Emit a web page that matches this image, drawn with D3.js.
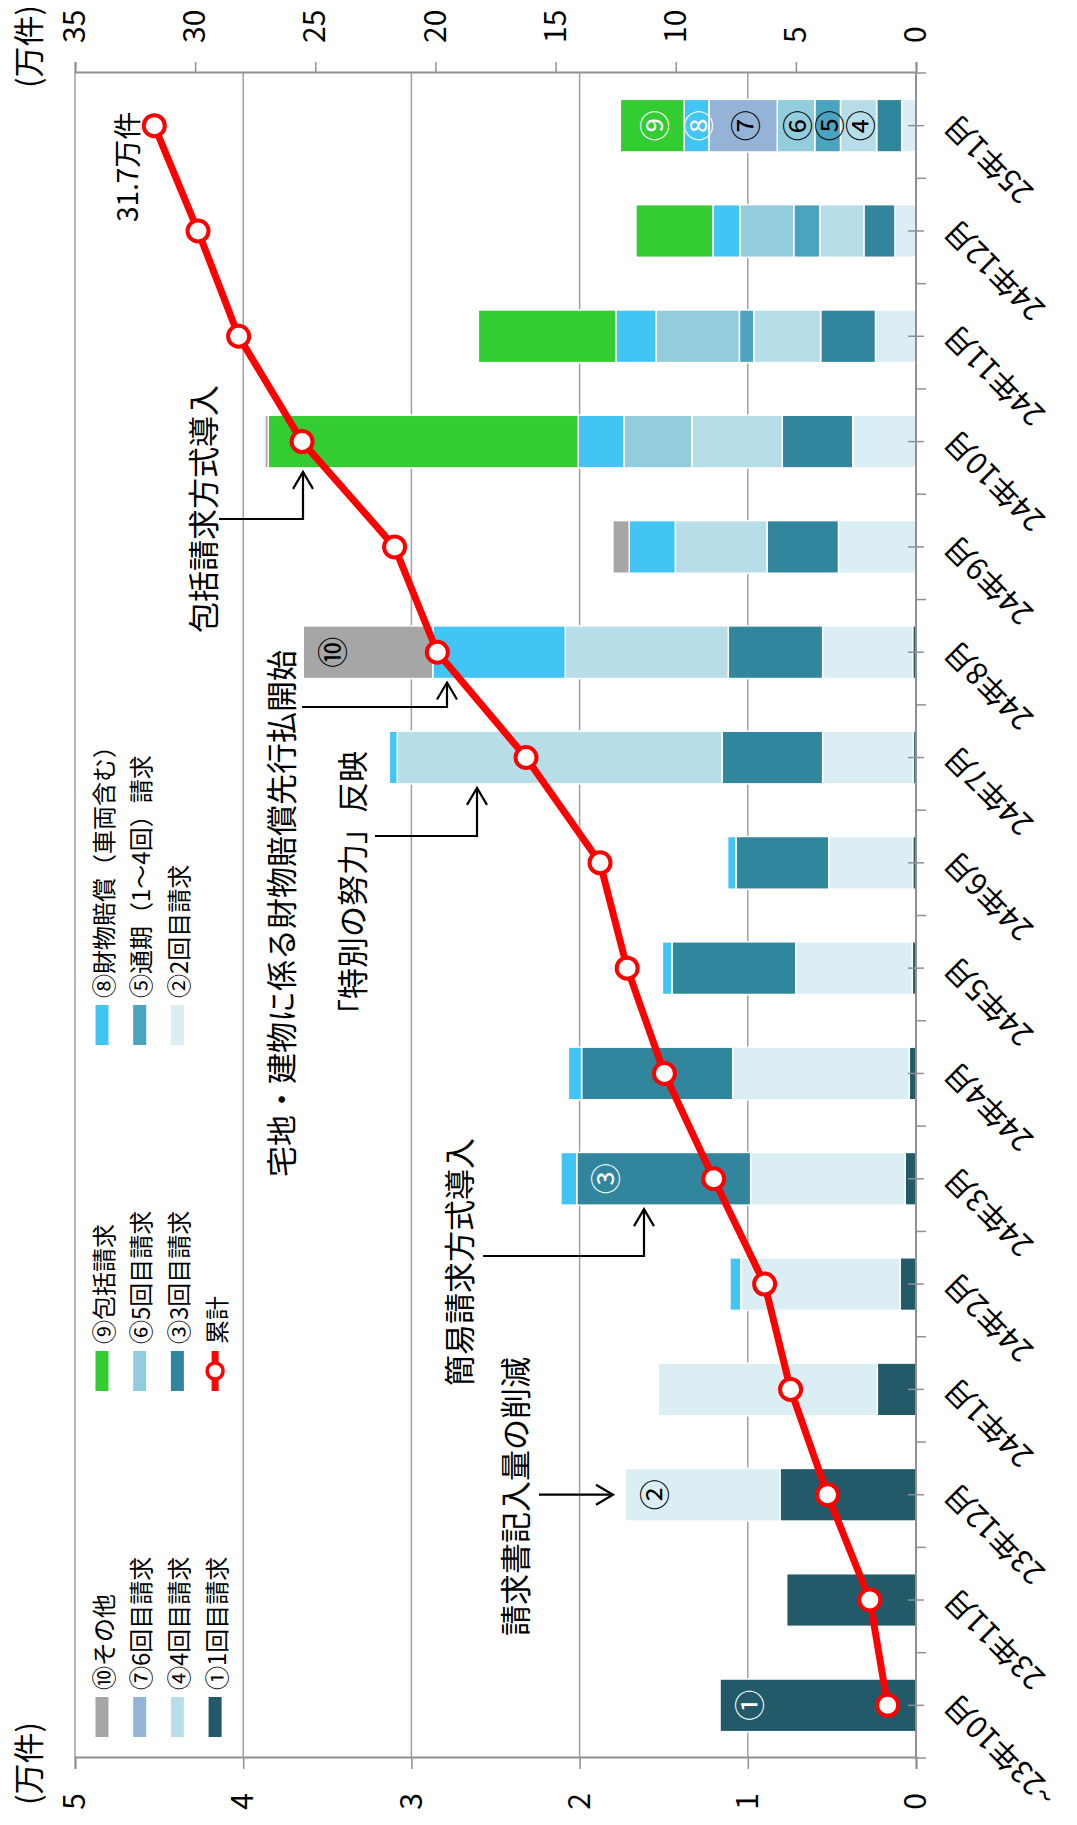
<!DOCTYPE html>
<html>
<head>
<meta charset="utf-8">
<script src="https://cdn.jsdelivr.net/npm/d3@7"></script>
<style>
  body { margin: 0; background: #fff; }
  text { font-family: "Noto Sans CJK JP", "Noto Sans", sans-serif; }
</style>
</head>
<body>
<script>
// months, oldest first
var months = ['~23年10月', '23年11月', '23年12月', '24年1月', '24年2月', '24年3月', '24年4月', '24年5月',
              '24年6月', '24年7月', '24年8月', '24年9月', '24年10月', '24年11月', '24年12月', '25年1月'];

// monthly counts per kind (万件)
var s1  = [1.165, 0.769, 0.809, 0.23, 0.095, 0.064, 0.04, 0.022, 0.02, 0.016, 0.02, 0, 0, 0, 0, 0];
var s2  = [0, 0, 0.921, 1.302, 0.947, 0.919, 1.05, 0.693, 0.499, 0.539, 0.535, 0.461, 0.376, 0.241, 0.125, 0.085];
var s3  = [0, 0, 0, 0, 0, 1.034, 0.898, 0.736, 0.551, 0.598, 0.561, 0.425, 0.419, 0.326, 0.185, 0.149];
var s4  = [0, 0, 0, 0, 0, 0, 0, 0, 0, 1.931, 0.969, 0.545, 0.537, 0.398, 0.262, 0.215];
var s5  = [0, 0, 0, 0, 0, 0, 0, 0, 0, 0, 0, 0, 0, 0.085, 0.155, 0.153];
var s6  = [0, 0, 0, 0, 0, 0, 0, 0, 0, 0, 0, 0, 0.404, 0.495, 0.32, 0.223];
var s7  = [0, 0, 0, 0, 0, 0, 0, 0, 0, 0, 0, 0, 0, 0, 0, 0.406];
var s8  = [0, 0, 0, 0, 0.064, 0.094, 0.079, 0.057, 0.05, 0.047, 0.788, 0.274, 0.272, 0.239, 0.161, 0.147];
var s9  = [0, 0, 0, 0, 0, 0, 0, 0, 0, 0, 0, 0, 1.843, 0.818, 0.457, 0.38];
var s10 = [0, 0, 0, 0, 0, 0, 0, 0, 0, 0, 0.77, 0.097, 0.02, 0, 0, 0];

// running total (万件), right axis
var cumulative = [1.18, 1.92, 3.68, 5.22, 6.3, 8.42, 10.47, 12.02, 13.15, 16.23, 19.92, 21.7, 25.55, 28.19, 29.88, 31.7];

var seriesNames = ['①1回目請求', '②2回目請求', '③3回目請求', '④4回目請求', '⑤通期（1～4回）請求',
                   '⑥5回目請求', '⑦6回目請求', '⑧財物賠償（車両含む）', '⑨包括請求', '⑩その他'];
var lineName = '累計';
var circled = ['①', '②', '③', '④', '⑤', '⑥', '⑦', '⑧', '⑨', '⑩'];

var leftTicks = [0, 1, 2, 3, 4, 5];
var rightTicks = [0, 5, 10, 15, 20, 25, 30, 35];

// which segments carry their circled number: [month, series]
var endLabels = [[0, 0], [2, 1], [5, 2], [10, 9]];
var midLabels = [[15, 3], [15, 4], [15, 5], [15, 6], [15, 7], [15, 8]];

// notes: text, month it points at
var notes = [
  {text: '包括請求方式導入', month: 12},
  {text: '宅地・建物に係る財物賠償先行払開始', month: 10},
  {text: '「特別の努力」反映', month: 9},
  {text: '簡易請求方式導入', month: 5},
  {text: '請求書記入量の削減', month: 2}
];

var colors = ['#225a69', '#dbeef4', '#31859c', '#b7dee8', '#4ba4bf', '#93cddd', '#95b3d7', '#42c5f5', '#33cc33', '#a6a6a6'];
var labelInk = ['#fff', '#000', '#fff', '#000', '#000', '#000', '#000', '#fff', '#fff', '#000'];

// the chart is laid out lying on its side, then turned a quarter left
var W = 1825, H = 1077;
var x0 = 67, x1 = 1752, yTop = 75, yBase = 916;

var svg = d3.select('body').append('svg')
            .attr('width', H)
            .attr('height', W);
var g = svg.append('g').attr('transform', 'translate(0,' + W + ') rotate(-90)');

var x = d3.scaleBand().domain(months).range([x0, x1]).paddingInner(0.5).paddingOuter(0.25);
var yL = d3.scaleLinear().domain([0, 5]).range([yBase, yTop]);
var yR = d3.scaleLinear().domain([0, 35]).range([yBase, yTop]);
var step = x.step();

// grid + frame
g.selectAll('line.grid')
 .data([1, 2, 3, 4])
 .enter().append('line')
 .attr('x1', x0).attr('x2', x1)
 .attr('y1', function(d){ return yL(d); })
 .attr('y2', function(d){ return yL(d); })
 .attr('stroke', '#a0a0a0').attr('stroke-width', 1.5);

g.append('line').attr('x1', x0).attr('x2', x1).attr('y1', yTop).attr('y2', yTop)
 .attr('stroke', '#a0a0a0').attr('stroke-width', 1.5);

// left axis
var axL = g.append('g').attr('transform', 'translate(' + x0 + ',0)')
           .call(d3.axisLeft(yL).tickValues(leftTicks).tickSize(11).tickPadding(24).tickFormat(d3.format('d')));
// right axis
var axR = g.append('g').attr('transform', 'translate(' + x1 + ',0)')
           .call(d3.axisRight(yR).tickValues(rightTicks).tickSize(11).tickPadding(19).tickFormat(d3.format('d')));
[axL, axR].forEach(function(a){
  a.select('.domain').attr('stroke', '#909090').attr('stroke-width', 2);
  a.selectAll('.tick line').attr('stroke', '#909090').attr('stroke-width', 1.5);
  a.selectAll('.tick text').attr('font-size', 30).attr('fill', '#000')
   .style('font-family', '"Noto Sans CJK JP", sans-serif');
});

// unit labels
g.append('text').attr('x', 20).attr('y', 26).attr('dominant-baseline', 'central')
 .attr('font-size', 31).text('(万件)');
g.append('text').attr('x', 1737).attr('y', 26).attr('dominant-baseline', 'central')
 .attr('font-size', 31).text('(万件)');

// stacked bars
var rows = months.map(function(m, i){
  return {month: m, 0: s1[i], 1: s2[i], 2: s3[i], 3: s4[i], 4: s5[i], 5: s6[i], 6: s7[i], 7: s8[i], 8: s9[i], 9: s10[i]};
});
var keys = d3.range(10);
var stacked = d3.stack().keys(keys)(rows);

var bw = x.bandwidth();
g.selectAll('g.layer')
 .data(stacked)
 .enter().append('g')
 .attr('fill', function(d, i){ return colors[i]; })
 .selectAll('rect')
 .data(function(d){ return d.filter(function(p){ return p[1] - p[0] > 0; }); })
 .enter().append('rect')
 .attr('x', function(d){ return x(d.data.month); })
 .attr('width', bw)
 .attr('y', function(d){ return yL(d[1]); })
 .attr('height', function(d){ return yL(d[0]) - yL(d[1]); })
 .attr('stroke', '#fff').attr('stroke-width', 1.5);

// category axis at zero
g.append('line').attr('x1', x0).attr('x2', x1).attr('y1', yBase).attr('y2', yBase)
 .attr('stroke', '#909090').attr('stroke-width', 2);
g.selectAll('line.bound')
 .data(d3.range(months.length + 1))
 .enter().append('line')
 .attr('x1', function(d){ return x0 + d * step; })
 .attr('x2', function(d){ return x0 + d * step; })
 .attr('y1', yBase).attr('y2', yBase + 10)
 .attr('stroke', '#909090').attr('stroke-width', 1.5);
g.selectAll('line.mid')
 .data(months)
 .enter().append('line')
 .attr('x1', function(d){ return x(d) + bw / 2; })
 .attr('x2', function(d){ return x(d) + bw / 2; })
 .attr('y1', yBase - 8).attr('y2', yBase + 8)
 .attr('stroke', '#909090').attr('stroke-width', 1.5);

g.selectAll('text.month')
 .data(months)
 .enter().append('text')
 .attr('transform', function(d){ return 'translate(' + (x(d) + bw / 2 + 4) + ',' + (yBase + 32) + ') rotate(-45)'; })
 .attr('text-anchor', 'end')
 .attr('dominant-baseline', 'central')
 .attr('font-size', 30)
 .text(function(d){ return d; });

// circled numbers on segments
function segLabel(list, where){
  g.selectAll(null)
   .data(list)
   .enter().append('text')
   .attr('x', function(d){ return x(months[d[0]]) + bw / 2; })
   .attr('y', function(d){
     var seg = stacked[d[1]][d[0]];
     return where === 'end' ? yL(seg[1]) + 27 : (yL(seg[0]) + yL(seg[1])) / 2;
   })
   .attr('text-anchor', 'middle')
   .attr('dominant-baseline', 'central')
   .attr('font-size', 31)
   .attr('fill', function(d){ return labelInk[d[1]]; })
   .text(function(d){ return circled[d[1]]; });
}
segLabel(endLabels, 'end');
segLabel(midLabels, 'mid');

// cumulative line
var line = d3.line()
  .x(function(d, i){ return x(months[i]) + bw / 2; })
  .y(function(d){ return yR(d); });
g.append('path').datum(cumulative)
 .attr('d', line).attr('fill', 'none')
 .attr('stroke', '#ff0000').attr('stroke-width', 7).attr('stroke-linejoin', 'round');
g.selectAll('circle.pt')
 .data(cumulative)
 .enter().append('circle')
 .attr('cx', function(d, i){ return x(months[i]) + bw / 2; })
 .attr('cy', function(d){ return yR(d); })
 .attr('r', 10.5)
 .attr('fill', '#fff').attr('stroke', '#ff0000').attr('stroke-width', 4);

var last = cumulative.length - 1;
g.append('text')
 .attr('x', x(months[last]) + bw / 2 + 14)
 .attr('y', yR(cumulative[last]) - 28)
 .attr('text-anchor', 'end')
 .attr('dominant-baseline', 'central')
 .attr('font-size', 28)
 .text(d3.format('.1f')(cumulative[last]) + '万件');

// legend, three columns
var legendItems = [9, 8, 7, 6, 5, 4, 3, 2, 1, 0, 'line'];
var lg = g.append('g');
legendItems.forEach(function(k, i){
  var col = i % 3, row = Math.floor(i / 3);
  var lx = 88 + col * 346, ly = 102 + row * 37.7;
  if (k === 'line') {
    lg.append('line').attr('x1', lx).attr('x2', lx + 40).attr('y1', ly).attr('y2', ly)
      .attr('stroke', '#ff0000').attr('stroke-width', 7);
    lg.append('circle').attr('cx', lx + 20).attr('cy', ly).attr('r', 8)
      .attr('fill', '#fff').attr('stroke', '#ff0000').attr('stroke-width', 3.5);
    lg.append('text').attr('x', lx + 47).attr('y', ly).attr('dominant-baseline', 'central')
      .attr('font-size', 24).text(lineName);
  } else {
    lg.append('rect').attr('x', lx).attr('y', ly - 6.5).attr('width', 40).attr('height', 13)
      .attr('fill', colors[k]);
    lg.append('text').attr('x', lx + 47).attr('y', ly).attr('dominant-baseline', 'central')
      .attr('font-size', 24).text(seriesNames[k]);
  }
});

// notes with elbow arrows
var noteText = [
  {x: 1192, y: 201}, {x: 648, y: 279}, {x: 795, y: 350}, {x: 439, y: 457}, {x: 189, y: 513}
];
var arrowRow = [303, 447, 477, 644];
notes.forEach(function(n, i){
  g.append('text').attr('x', noteText[i].x).attr('y', noteText[i].y)
   .attr('dominant-baseline', 'central').attr('font-size', 31).text(n.text);
});

function chevron(tx, ty, dir){
  var p = dir === 'x' ? [[tx - 17, ty - 10], [tx, ty], [tx - 17, ty + 10]]
                      : [[tx - 10, ty - 17], [tx, ty], [tx + 10, ty - 17]];
  g.append('path').attr('d', d3.line()(p)).attr('fill', 'none')
   .attr('stroke', '#000').attr('stroke-width', 2.2);
}
var elbowX = [1306, 1118, 989, 569];
var elbowFrom = [219, 302, 375, 483];
notes.slice(0, 4).forEach(function(n, i){
  var tip = x(months[n.month]) - 4;
  var yy = arrowRow[i];
  g.append('path')
   .attr('d', 'M' + elbowX[i] + ',' + elbowFrom[i] + 'V' + yy + 'H' + tip)
   .attr('fill', 'none').attr('stroke', '#000').attr('stroke-width', 2.2);
  chevron(tip, yy, 'x');
});
// last note points straight at its bar
var cx2 = x(months[notes[4].month]) + bw / 2;
var tipY = yL(s1[2] + s2[2]) - 12;
g.append('line').attr('x1', cx2).attr('x2', cx2).attr('y1', 539).attr('y2', tipY)
 .attr('stroke', '#000').attr('stroke-width', 2.2);
chevron(cx2, tipY, 'y');
</script>
</body>
</html>
